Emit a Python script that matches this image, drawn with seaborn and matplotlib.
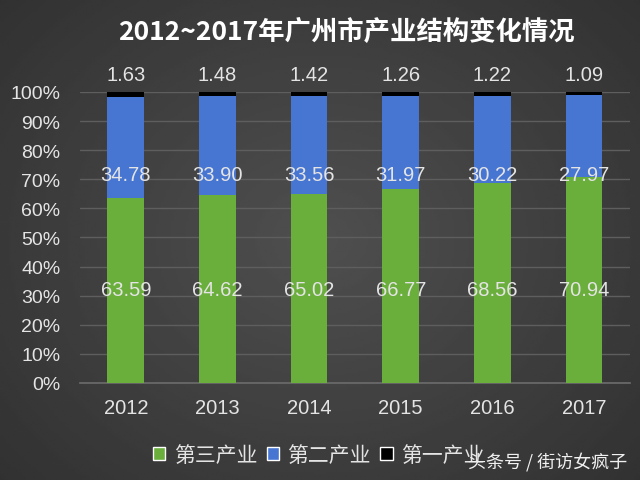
import numpy as np
import pandas as pd
import matplotlib
matplotlib.use("Agg")
import matplotlib.pyplot as plt
import seaborn as sns
from matplotlib.patches import Patch

years = ["2012", "2013", "2014", "2015", "2016", "2017"]
tertiary = [63.59, 64.62, 65.02, 66.77, 68.56, 70.94]
secondary = [34.78, 33.90, 33.56, 31.97, 30.22, 27.97]
primary = [1.63, 1.48, 1.42, 1.26, 1.22, 1.09]
series_names = ["第三产业", "第二产业", "第一产业"]
title = "2012~2017年广州市产业结构变化情况"
watermark = "头条号 / 街访女疯子"

sns.set_theme(style="dark")
plt.rcParams['font.family'] = ['Liberation Sans', 'Noto Sans CJK SC', 'DejaVu Sans']
cjk = ['Noto Sans CJK SC', 'DejaVu Sans']

df = pd.DataFrame({"year": years, "tertiary": tertiary,
                   "secondary": secondary, "primary": primary})
df["cum2"] = df["tertiary"] + df["secondary"]
df["cum3"] = df["cum2"] + df["primary"]

GREEN = "#6aae3c"
BLUE = "#4675d2"
BLACK = "#000000"
TXT = "#e4e4e4"

fig = plt.figure(figsize=(6.4, 4.81), dpi=100)
# background radial gradient
bg = fig.add_axes([0, 0, 1, 1], zorder=-10)
yy, xx = np.mgrid[-1:1:200j, -1:1:260j]
r = np.sqrt(xx**2 + (yy * 0.9)**2)
bg.imshow(0.31 - 0.12 * np.clip(r, 0, 1.4) / 1.4, cmap="gray", vmin=0, vmax=1,
          aspect="auto", extent=[0, 1, 0, 1])
bg.axis("off")

ax = fig.add_axes([0.125, 0.2017, 0.859, 0.605])
ax.patch.set_alpha(0)

for col, colr in [("cum3", BLACK), ("cum2", BLUE), ("tertiary", GREEN)]:
    sns.barplot(data=df, x="year", y=col, color=colr, width=0.4, ax=ax,
                saturation=1, zorder=3, linewidth=0, edgecolor="none")

ax.set_ylim(0, 100)
ax.set_xlim(-0.5, 5.5)
ax.set_yticks(np.arange(0, 101, 10))
ax.set_yticklabels([f"{v}%" for v in range(0, 101, 10)])
ax.grid(axis="y", color="#5e5e5e", linewidth=1, zorder=0)
ax.grid(axis="x", visible=False)
for s in ax.spines.values():
    s.set_visible(False)
ax.spines["bottom"].set_visible(True)
ax.spines["bottom"].set_color("#6a6a6a")
ax.set_xlabel("")
ax.set_ylabel("")
ax.tick_params(axis="y", colors=TXT, labelsize=14, pad=14, length=0)
ax.tick_params(axis="x", colors=TXT, labelsize=14.5, pad=11, length=0)

for i in range(len(years)):
    ax.text(i, 32, f"{tertiary[i]:.2f}", ha="center", va="center",
            color=TXT, fontsize=14.5, zorder=5)
    ax.text(i, 71.5, f"{secondary[i]:.2f}", ha="center", va="center",
            color=TXT, fontsize=14.5, zorder=5)
    ax.text(i, 106, f"{primary[i]:.2f}", ha="center", va="center",
            color=TXT, fontsize=14.5, zorder=5, clip_on=False)

fig.text(0.541, 0.931, title, ha="center", va="center", color="white",
         fontsize=19, fontweight="bold", family=cjk)

handles = [Patch(facecolor=GREEN), Patch(facecolor=BLUE), Patch(facecolor=BLACK)]
leg = fig.legend(handles, series_names, loc="center", bbox_to_anchor=(0.498, 0.052),
                 ncol=3, frameon=False, handlelength=0.6, handleheight=0.6,
                 handletextpad=0.4, columnspacing=0.45,
                 prop={"family": cjk, "size": 15})
for t in leg.get_texts():
    t.set_color(TXT)

fig.text(0.98, 0.037, watermark, ha="right", va="center", color="#f0f0f0",
         fontsize=13, family=cjk, zorder=10)

fig.savefig("out.png", dpi=100)
